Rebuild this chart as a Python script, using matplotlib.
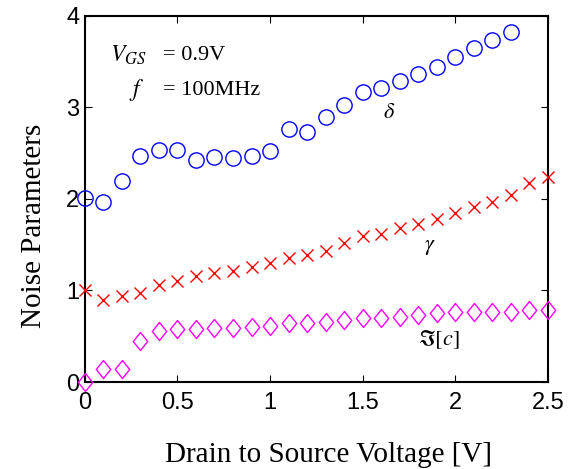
import matplotlib
matplotlib.use("Agg")
import matplotlib.pyplot as plt
import numpy as np

plt.rcParams['mathtext.fontset'] = 'stix'

vds_delta = [0.0, 0.1, 0.2, 0.3, 0.4, 0.5, 0.6, 0.7, 0.8, 0.9, 1.0, 1.1,
             1.2, 1.3, 1.4, 1.5, 1.6, 1.7, 1.8, 1.9, 2.0, 2.1, 2.2, 2.3]
delta = [2.01, 1.97, 2.20, 2.47, 2.54, 2.54, 2.43, 2.46, 2.45, 2.47, 2.52, 2.76,
         2.73, 2.90, 3.03, 3.17, 3.21, 3.29, 3.37, 3.44, 3.55, 3.65, 3.74, 3.83]

vds = [0.0, 0.1, 0.2, 0.3, 0.4, 0.5, 0.6, 0.7, 0.8, 0.9, 1.0, 1.1, 1.2,
       1.3, 1.4, 1.5, 1.6, 1.7, 1.8, 1.9, 2.0, 2.1, 2.2, 2.3, 2.4, 2.5]
gamma = [1.00, 0.90, 0.94, 0.97, 1.06, 1.10, 1.16, 1.19, 1.21, 1.26, 1.30, 1.35, 1.39,
         1.43, 1.52, 1.60, 1.62, 1.68, 1.73, 1.78, 1.85, 1.91, 1.97, 2.04, 2.17, 2.24]
imc = [0.00, 0.14, 0.14, 0.45, 0.56, 0.58, 0.58, 0.59, 0.59, 0.60, 0.61, 0.65, 0.64,
       0.66, 0.68, 0.70, 0.70, 0.71, 0.73, 0.75, 0.76, 0.76, 0.76, 0.77, 0.79, 0.79]

xticks = [0, 0.5, 1, 1.5, 2, 2.5]
xticklabels = ['0', '0.5', '1', '1.5', '2', '2.5']
yticks = [0, 1, 2, 3, 4]
yticklabels = ['0', '1', '2', '3', '4']

fig = plt.figure(figsize=(5.69, 4.69), dpi=100)
ax = fig.add_axes([0.149, 0.1855, 0.814, 0.7805])

diamond = [(0, 1), (0.8, 0), (0, -1), (-0.8, 0), (0, 1)]

ax.plot(vds_delta, delta, linestyle='none', marker='o', markersize=11,
        markerfacecolor='none', markeredgecolor='#0000ff', markeredgewidth=1.0, clip_on=False, zorder=3)
ax.plot(vds, gamma, linestyle='none', marker='x', markersize=8.5,
        color='#ff0000', markeredgewidth=1.0, clip_on=False, zorder=3)
ax.plot(vds, imc, linestyle='none', marker=diamond, markersize=13,
        markerfacecolor='none', markeredgecolor='#ff00ff', markeredgewidth=1.0, clip_on=False, zorder=3)

ax.set_xlim(0, 2.5)
ax.set_ylim(0, 4)
ax.set_xticks(xticks)
ax.set_xticklabels(xticklabels)
ax.set_yticks(yticks)
ax.set_yticklabels(yticklabels)

for lab in ax.get_xticklabels() + ax.get_yticklabels():
    lab.set_fontfamily('Liberation Sans')
    lab.set_fontsize(17)

ax.tick_params(direction='in', length=5, width=0.8, top=True, right=True)
ax.tick_params(axis='y', pad=4)
ax.tick_params(axis='x', pad=7)
for s in ax.spines.values():
    s.set_linewidth(1.5)

ax.set_xlabel('Drain to Source Voltage [V]', fontfamily='Liberation Serif', fontsize=21, labelpad=20)
ax.set_ylabel('Noise Parameters', fontfamily='Liberation Serif', fontsize=21, labelpad=14)
ax.xaxis.label.set_x(0.527)
ax.yaxis.label.set_y(0.426)

ax.text(0.135, 3.57, r'$V_{GS}$', fontsize=17, va='center', ha='left')
ax.text(0.42, 3.57, '= 0.9V', fontfamily='Liberation Serif', fontsize=16, va='center', ha='left')
ax.text(0.24, 3.19, r'$f$', fontsize=17, va='center', ha='left')
ax.text(0.42, 3.19, '= 100MHz', fontfamily='Liberation Serif', fontsize=16, va='center', ha='left')

ax.text(1.64, 2.95, r'$\delta$', fontsize=16, va='center', ha='center')
ax.text(1.86, 1.48, r'$\gamma$', fontsize=16, va='center', ha='center')
ax.text(1.91, 0.46, r'$\Im[c]$', fontsize=16, va='center', ha='center')

fig.savefig('out.png', dpi=100)
